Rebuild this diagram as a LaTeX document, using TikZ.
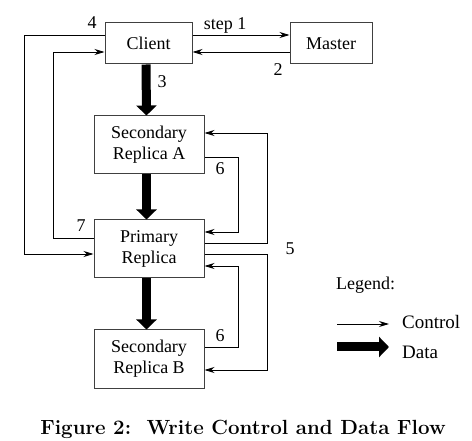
\documentclass[tikz,border=0pt]{standalone}
\usepackage{fontspec}
\newfontfamily\tnr{Liberation Serif}
\usetikzlibrary{arrows.meta}
\tikzset{
  box/.style={draw=black!75, line width=1pt, rectangle, align=center, font=\tnr\fontsize{18}{21}\selectfont, inner sep=0pt},
  ctrl/.style={draw=black, line width=0.9pt, -{Stealth[length=10pt,width=6pt]}},
  plain/.style={draw=black, line width=0.9pt},
  data/.style={draw=black, line width=9pt, -{Triangle[length=10pt,width=20pt]}},
  lbl/.style={font=\tnr\fontsize{18}{21}\selectfont, inner sep=0pt},
}
\begin{document}
\begin{tikzpicture}[x=1pt,y=-1pt]
\useasboundingbox (0,0) rectangle (472,441);
\node[box, minimum width=87pt, minimum height=41pt] (client) at (148.5,43.5) {Client};
\node[box, minimum width=82pt, minimum height=41pt] (master) at (331,43.5) {Master};
\node[box, minimum width=110pt, minimum height=58pt] (secA) at (149,145) {Secondary\\Replica A};
\node[box, minimum width=110pt, minimum height=58pt] (prim) at (149,249) {Primary\\Replica};
\node[box, minimum width=110pt, minimum height=58pt] (secB) at (149,359) {Secondary\\Replica B};

% data flow
\draw[data] ([xshift=-2.5pt]client.south) -- ([xshift=-2.5pt]secA.north);
\draw[data] ([xshift=-2.5pt]secA.south) -- ([xshift=-2.5pt]prim.north);
\draw[data] ([xshift=-2.5pt]prim.south) -- ([xshift=-2.5pt]secB.north);

% control flow
\draw[ctrl] (client.east |- 0,35) -- (master.west |- 0,35);
\draw[ctrl] (master.west |- 0,52) -- (client.east |- 0,52);
\draw[ctrl] (client.west |- 0,35) -- (24,35) -- (24,254) -- (prim.west |- 0,254);
\draw[ctrl] (prim.west |- 0,238) -- (53,238) -- (53,52) -- (client.west |- 0,52);
\draw[ctrl] (secA.east |- 0,157) -- (238,157) -- (238,232) -- (prim.east |- 0,232);
\draw[ctrl] (prim.east |- 0,243) -- (267,243) -- (267,133) -- (secA.east |- 0,133);
\draw[ctrl] (prim.east |- 0,254) -- (267,254) -- (267,370) -- (secB.east |- 0,370);
\draw[ctrl] (secB.east |- 0,347) -- (238,347) -- (238,266) -- (prim.east |- 0,266);

% labels
\node[lbl] (l4) at (92,23) {4};
\node[lbl, anchor=base] (l1) at (225,30) {step 1};
\node[lbl] (l2) at (278,70) {2};
\node[lbl] (l3) at (162,82) {3};
\node[lbl] (l6a) at (220,169) {6};
\node[lbl] (l7) at (81,226) {7};
\node[lbl] (l5) at (290,249) {5};
\node[lbl] (l6b) at (220,336) {6};

% legend
\node[lbl, anchor=base west] (leg) at (336,290) {Legend:};
\coordinate (lc1) at (337,324);
\coordinate (lc2) at (389,324);
\draw[ctrl] (lc1) -- (lc2);
\node[lbl, anchor=base west, font=\tnr\fontsize{19}{22}\selectfont] (lcon) at (402,329) {Control};
\coordinate (ld1) at (337,347);
\coordinate (ld2) at (389,347);
\draw[data] (ld1) -- (ld2);
\node[lbl, anchor=base west, font=\tnr\fontsize{19}{22}\selectfont] (ldat) at (402,359) {Data};

% caption
\node[anchor=base, inner sep=0pt, font=\fontsize{20.5}{24}\selectfont\bfseries] (cap) at (243,434) {Figure 2:\ \ Write Control and Data Flow};
\end{tikzpicture}
\end{document}
